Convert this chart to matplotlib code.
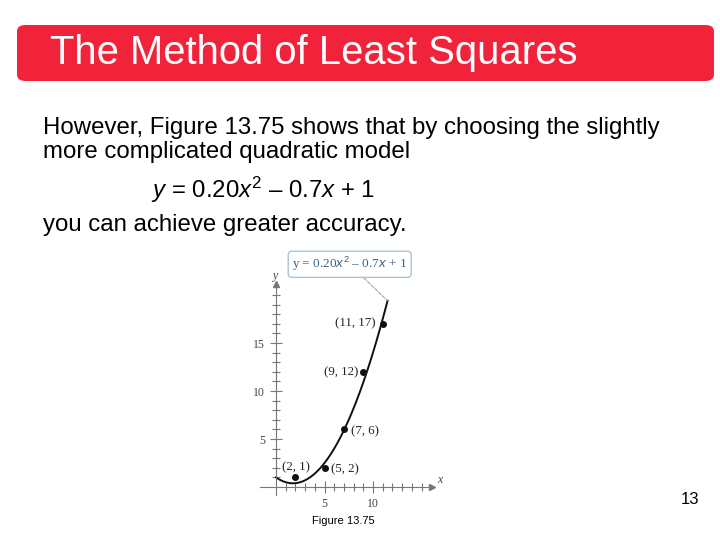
import numpy as np
import matplotlib.pyplot as plt
from matplotlib.patches import FancyBboxPatch
from matplotlib.ticker import FixedLocator

plt.rcParams['font.family'] = ['Liberation Sans', 'DejaVu Sans']
plt.rcParams['mathtext.fontset'] = 'custom'
plt.rcParams['mathtext.rm'] = 'Liberation Sans'
plt.rcParams['mathtext.it'] = 'Liberation Sans:italic'

# data
xs = [2, 5, 7, 9, 11]
ys = [1, 2, 6, 12, 17]
labels = ['(2, 1)', '(5, 2)', '(7, 6)', '(9, 12)', '(11, 17)']
label_off = [(0.5, 7.5), (14.5, -1), (15, -1), (-16, 0), (-19.5, 0.5)]
coef = [0.20, -0.7, 1]

fig = plt.figure(figsize=(7.2, 5.4), dpi=100)

# title bar
bar = FancyBboxPatch((17/720, 1-81/540), 697/720, 56/540,
                     boxstyle='round,pad=0,rounding_size=0.012',
                     transform=fig.transFigure, fc='#f0233a', ec='none')
fig.patches.append(bar)
fig.text(50/720, 1-53/540, 'The Method of Least Squares', color='white',
         fontsize=28.8, va='center', ha='left')

fs = 17.3
fig.text(43/720, 1-128/540, 'However, Figure 13.75 shows that by choosing the slightly',
         fontsize=fs, va='center')
fig.text(43/720, 1-152/540, 'more complicated quadratic model', fontsize=fs, va='center')
fig.text(151/720, 1-190/540, r'$\it{y}$ = 0.20$\it{x}^{2}$ – 0.7$\it{x}$ + 1',
         fontsize=fs, va='center')
fig.text(43/720, 1-225/540, 'you can achieve greater accuracy.', fontsize=fs, va='center')
fig.text(699/720, 1-500/540, '13', fontsize=12, ha='right', va='center')
fig.text(343/720, 1-521/540, 'Figure 13.75', fontsize=8, ha='center', va='center')

# plot
ax = fig.add_axes([256.6/720, 1-506.2/540, 184.3/720, 259.2/540])
ax.set_xlim(-2, 17)
ax.set_ylim(-2, 25)
ax.patch.set_alpha(0)
for s in ['top', 'right']:
    ax.spines[s].set_visible(False)
axc = '#777777'
ax.spines['left'].set_position(('data', 0))
ax.spines['bottom'].set_position(('data', 0))
ax.spines['left'].set_bounds(-0.8, 21)
ax.spines['bottom'].set_bounds(-1.6, 16)
ax.spines['left'].set_color(axc)
ax.spines['bottom'].set_color(axc)
ax.plot(16.1, 0, '>', color=axc, ms=4, clip_on=False)
ax.plot(0, 21.1, '^', color=axc, ms=4, clip_on=False)

ax.xaxis.set_major_locator(FixedLocator([5, 10]))
ax.xaxis.set_minor_locator(FixedLocator([i for i in range(1, 16) if i not in (5, 10)]))
ax.yaxis.set_major_locator(FixedLocator([5, 10, 15]))
ax.yaxis.set_minor_locator(FixedLocator([i for i in range(1, 21) if i not in (5, 10, 15)]))
ax.tick_params(which='both', direction='inout', color=axc, labelcolor='#444444',
               labelsize=8.5, labelfontfamily='Liberation Serif')
ax.tick_params(which='major', length=9, width=0.8)
ax.tick_params(which='minor', length=6, width=0.8)
ax.text(16.6, 0.4, 'x', fontsize=8.5, style='italic', family='Liberation Serif', color='#444444')
ax.text(0, 21.7, 'y', fontsize=8.5, style='italic', family='Liberation Serif', color='#444444', ha='center')

xx = np.linspace(0, 11.5, 200)
ax.plot(xx, np.polyval(coef, xx), color='#111111', lw=1.4)
ax.plot(xs, ys, 'o', color='#111111', ms=4)
for x, y, t, (dx, dy) in zip(xs, ys, labels, label_off):
    ax.annotate(t, (x, y), xytext=(dx, dy), textcoords='offset points',
                ha='center', va='center', fontsize=9.3, family='Liberation Serif',
                color='#222222')

ax.annotate(r'y = 0.20$\it{x}^{2}$ – 0.7$\it{x}$ + 1', xy=(11.5, np.polyval(coef, 11.5)),
            xytext=(7.6, 23.2), ha='center', va='center', fontsize=9.5,
            family='Liberation Serif', color='#3e5f80',
            bbox=dict(boxstyle='round,pad=0.3', fc='white', ec='#a8c4d8', lw=1),
            arrowprops=dict(arrowstyle='-', ls='--', color='#999999', lw=0.7,
                            shrinkA=0, shrinkB=0),
            annotation_clip=False)

fig.savefig('out.png', dpi=100)
